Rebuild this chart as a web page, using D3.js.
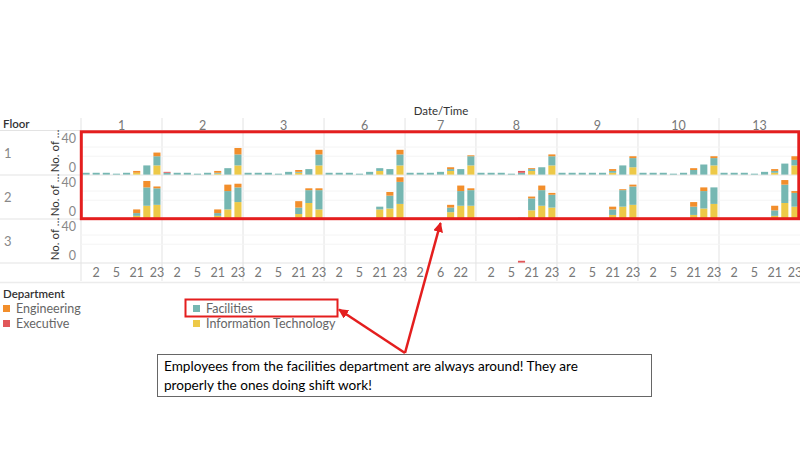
<!DOCTYPE html>
<html>
<head>
<meta charset="utf-8">
<script src="https://cdn.jsdelivr.net/npm/d3@7/dist/d3.min.js"></script>
<style>
  html, body { margin: 0; padding: 0; background: #fff; }
  svg { display: block; font-family: Lato, "Open Sans", sans-serif; }
</style>
</head>
<body>
<svg id="chart" width="800" height="450"></svg>
<script>
// ---------------- DATA ----------------
const days = ["1", "2", "3", "6", "7", "8", "9", "10", "13"];
const dayHours = [
  ["1", "2", "3", "5", "6", "21", "22", "23"],   // day 1
  ["1", "2", "3", "5", "6", "21", "22", "23"],   // day 2
  ["1", "2", "3", "5", "6", "21", "22", "23"],   // day 3
  ["1", "2", "3", "5", "6", "21", "22", "23"],   // day 6
  ["1", "2", "3", "6", "21", "22", "23"],        // day 7
  ["1", "2", "3", "5", "6", "21", "22", "23"],   // day 8
  ["1", "2", "3", "5", "6", "21", "22", "23"],   // day 9
  ["1", "2", "3", "5", "6", "21", "22", "23"],   // day 10
  ["1", "2", "3", "5", "6", "21", "22", "23"]    // day 13
];
const floors = ["1", "2", "3"];
const departments = ["Engineering", "Executive", "Facilities", "Information Technology"];
const yTicks = [0, 40];

// values per slot (days in order, hours in order)
//                 d1               | d2               | d3               | d6               | d7             | d8               | d9               | d10              | d13
const f1Eng  = [0,0,0,0,0,2,0,4,   0,0,0,0,0,2,0,7,   0,0,0,0,0,2,0,5,   0,0,0,0,0,0,0,5,   0,0,0,0,2,0,1,   0,0,0,0,0,1,0,2,   0,0,0,0,0,2,0,2,   0,0,0,0,0,2,0,2,   0,0,0,0,0,2,0,4];
const f1Exec = [0,0,0,0,0,0,0,0,   1,0,0,0,0,0,0,0,   0,0,0,0,0,0,0,0,   0,0,0,0,0,0,0,0,   0,0,0,0,0,0,0,   0,0,0,0,2,0,0,0,   0,0,0,0,0,0,0,0,   0,0,0,0,0,0,0,0,   0,0,0,0,0,0,0,0];
const f1Fac  = [2,2,2,1,2,0,10,10, 2,2,2,1,2,1,7,12,  2,2,2,1,3,1,6,12,  2,2,2,1,3,3,6,12,  2,2,2,3,2,6,10,  2,2,2,1,2,2,8,10,  2,2,2,2,2,2,10,10, 2,2,2,1,2,5,11,8,  2,2,2,1,3,2,12,6];
const f1IT   = [0,0,0,0,0,2,0,10,  0,0,0,0,0,1,0,10,  0,0,0,0,0,2,0,10,  0,0,0,0,0,4,0,10,  0,0,0,0,4,0,10,  0,0,0,0,0,4,0,10,  0,0,0,0,0,2,0,8,   0,0,0,0,0,0,0,10,  0,0,0,0,0,2,0,10];

const f2Eng  = [0,0,0,0,0,4,7,2,   0,0,0,0,0,4,7,4,   0,0,0,0,0,7,2,2,   0,0,0,0,0,0,4,5,   0,0,0,0,3,6,2,   0,0,0,0,0,2,5,2,   0,0,0,0,0,3,1,2,   0,0,0,0,0,5,4,0,   0,0,0,0,0,5,5,2];
const f2Exec = [0,0,0,0,0,0,0,0,   0,0,0,0,0,0,0,0,   0,0,0,0,0,0,0,0,   0,0,0,0,0,0,0,0,   0,0,0,0,0,0,0,   0,0,0,0,1,0,0,0,   0,0,0,0,0,0,0,0,   0,0,0,0,0,0,0,0,   0,0,0,0,0,0,0,0];
const f2Fac  = [0,0,0,0,0,3,20,18, 0,0,0,0,0,3,20,16, 0,0,0,0,0,7,14,21, 0,0,0,0,0,3,14,24, 0,0,0,0,5,16,17, 0,0,0,0,0,13,17,14, 0,0,0,0,0,6,18,20, 0,0,0,0,0,9,19,18, 0,0,0,0,0,6,20,15];
const f2IT   = [0,0,0,0,0,3,14,15, 0,0,0,0,0,3,10,18, 0,0,0,0,0,5,17,10, 0,0,0,0,0,10,11,16, 0,0,0,0,7,14,14, 0,0,0,0,0,9,14,12, 0,0,0,0,0,4,13,15, 0,0,0,0,0,4,11,16, 0,0,0,0,0,3,17,13];

const f3Eng  = [0,0,0,0,0,0,0,0,   0,0,0,0,0,0,0,0,   0,0,0,0,0,0,0,0,   0,0,0,0,0,0,0,0,   0,0,0,0,0,0,0,   0,0,0,0,0,0,0,0,   0,0,0,0,0,0,0,0,   0,0,0,0,0,0,0,0,   0,0,0,0,0,0,0,0];
const f3Exec = [0,0,0,0,0,0,0,0,   0,0,0,0,0,0,0,0,   0,0,0,0,0,0,0,0,   0,0,0,0,0,0,0,0,   0,0,0,0,0,0,0,   0,0,0,0,2,0,0,0,   0,0,0,0,0,0,0,0,   0,0,0,0,0,0,0,0,   0,0,0,0,0,0,0,0];
const f3Fac  = [0,0,0,0,0,0,0,0,   0,0,0,0,0,0,0,0,   0,0,0,0,0,0,0,0,   0,0,0,0,0,0,0,0,   0,0,0,0,0,0,0,   0,0,0,0,0,0,0,0,   0,0,0,0,0,0,0,0,   0,0,0,0,0,0,0,0,   0,0,0,0,0,0,0,0];
const f3IT   = [0,0,0,0,0,0,0,0,   0,0,0,0,0,0,0,0,   0,0,0,0,0,0,0,0,   0,0,0,0,0,0,0,0,   0,0,0,0,0,0,0,   0,0,0,0,0,0,0,0,   0,0,0,0,0,0,0,0,   0,0,0,0,0,0,0,0,   0,0,0,0,0,0,0,0];

const annotationLines = [
  "Employees from the facilities department are always around! They are",
  "properly the ones doing shift work!"
];

// ---------------- LAYOUT ----------------
const floorSeries = [
  {Engineering: f1Eng, Executive: f1Exec, Facilities: f1Fac, "Information Technology": f1IT},
  {Engineering: f2Eng, Executive: f2Exec, Facilities: f2Fac, "Information Technology": f2IT},
  {Engineering: f3Eng, Executive: f3Exec, Facilities: f3Fac, "Information Technology": f3IT}
];
const colors = {
  "Engineering": "#f28e2b",
  "Executive": "#e15759",
  "Facilities": "#76b7b2",
  "Information Technology": "#edc948"
};
const stackOrder = ["Information Technology", "Facilities", "Executive", "Engineering"];

const svg = d3.select("#chart");
svg.append("rect").attr("width", 800).attr("height", 450).attr("fill", "#fff");

const plotL = 81, plotR = 800;
const rowTop = 131, rowH = 44;
const gridCol = "#e3e3e3";

// slots
const slots = [];
days.forEach((d, di) => dayHours[di].forEach((h, hi) => slots.push({key: d + "|" + h, day: d, hour: h, di, hi})));

const x = d3.scaleBand().domain(slots.map(s => s.key)).range([plotL, plotR]).paddingInner(0.3).paddingOuter(0.15);
const step = x.step();

// panel boundaries per day
const dayStart = [];
let acc = 0;
days.forEach((d, di) => { dayStart.push(acc); acc += dayHours[di].length; });
const dayX0 = di => plotL + dayStart[di] * step;
const dayX1 = di => plotL + (dayStart[di] + dayHours[di].length) * step;

// horizontal separators
[130.5, 175, 219, 263].forEach(yy => {
  svg.append("line").attr("x1", 0).attr("x2", 800).attr("y1", yy).attr("y2", yy)
    .attr("stroke", gridCol).attr("stroke-width", 1);
});
svg.append("line").attr("x1", 0).attr("x2", 800).attr("y1", 282.5).attr("y2", 282.5)
  .attr("stroke", "#ececec").attr("stroke-width", 1.5);

// vertical panel separators
const vlines = [plotL].concat(days.map((d, di) => dayX1(di)).slice(0, -1));
vlines.forEach(vx => {
  svg.append("line").attr("x1", vx).attr("x2", vx).attr("y1", 118).attr("y2", 281)
    .attr("stroke", gridCol).attr("stroke-width", 1);
});

// headers
svg.append("text").attr("x", 3).attr("y", 128).attr("font-size", 11.5).attr("font-weight", 600)
  .attr("fill", "#333").text("Floor");
svg.append("text").attr("x", (plotL + plotR) / 2 + 0.5).attr("y", 115).attr("text-anchor", "middle")
  .attr("font-size", 11.5).attr("fill", "#333").text("Date/Time");
days.forEach((d, di) => {
  svg.append("text").attr("x", (dayX0(di) + dayX1(di)) / 2).attr("y", 129.5).attr("text-anchor", "middle")
    .attr("font-size", 12.5).attr("fill", "#777").text(d);
});

// rows
floors.forEach((fl, fi) => {
  const top = rowTop + fi * rowH;
  const base = top + 43.6;
  const y = d3.scaleLinear().domain([0, 47.5]).range([base, top]);

  // faint gridlines
  [20, 30].forEach(v => {
    svg.append("line").attr("x1", plotL).attr("x2", plotR).attr("y1", y(v)).attr("y2", y(v))
      .attr("stroke", "#f4f4f4").attr("stroke-width", 1);
  });

  // floor label
  svg.append("text").attr("x", 4).attr("y", top + 27).attr("font-size", 13).attr("fill", "#888").text(fl);

  // axis title
  svg.append("text").attr("transform", `translate(59,${top + 20}) rotate(-90)`)
    .attr("text-anchor", "middle").attr("font-size", 11.5).attr("fill", "#333").text("No. of …");

  // y axis labels
  const ax = d3.axisLeft(y).tickValues(yTicks).tickSize(0).tickPadding(4).tickFormat(d3.format("d"));
  const g = svg.append("g").attr("transform", `translate(${plotL - 1},0)`).call(ax);
  g.select(".domain").remove();
  g.selectAll("text").attr("font-size", 12.5).attr("fill", "#888").attr("font-family", "Lato, sans-serif")
    .attr("dy", d => d === 0 ? "-0.25em" : "0.35em");

  // stacked bars
  const fs = floorSeries[fi];
  const rows = slots.map((s, i) => {
    const r = {key: s.key};
    departments.forEach(dep => r[dep] = fs[dep][i]);
    return r;
  });
  const stacked = d3.stack().keys(stackOrder)(rows);
  svg.append("g").selectAll("g").data(stacked).join("g")
    .attr("fill", d => colors[d.key])
    .selectAll("rect").data(d => d.filter(p => p[1] - p[0] > 0)).join("rect")
    .attr("x", p => x(p.data.key))
    .attr("width", x.bandwidth())
    .attr("y", p => y(p[1]))
    .attr("height", p => y(p[0]) - y(p[1]));
});

// bottom axis (every other hour label)
const xAxis = d3.axisBottom(x).tickSize(0).tickPadding(0)
  .tickValues(slots.filter(s => s.hi % 2 === 1).map(s => s.key))
  .tickFormat(k => k.split("|")[1]);
const gx = svg.append("g").attr("transform", "translate(0,268)").call(xAxis);
gx.select(".domain").remove();
gx.selectAll("text").attr("font-size", 12.5).attr("fill", "#777").attr("font-family", "Lato, sans-serif");

// legend
svg.append("text").attr("x", 3).attr("y", 298).attr("font-size", 11.5).attr("font-weight", 600)
  .attr("fill", "#333").text("Department");
const legendPos = [[3, 305], [3, 320], [193, 305], [193, 320]];
departments.forEach((dep, i) => {
  const [lx, ly] = legendPos[i];
  svg.append("rect").attr("x", lx).attr("y", ly).attr("width", 7).attr("height", 7).attr("fill", colors[dep]);
  svg.append("text").attr("x", lx + 13).attr("y", ly + 8).attr("font-size", 12.5).attr("fill", "#666").text(dep);
});

// annotation shapes
const red = "#e41e1e";
svg.append("rect").attr("x", 81.3).attr("y", 131.8).attr("width", 717.5).attr("height", 86.9)
  .attr("fill", "none").attr("stroke", red).attr("stroke-width", 3);
svg.append("rect").attr("x", 185.5).attr("y", 299.5).attr("width", 152).attr("height", 17)
  .attr("fill", "none").attr("stroke", red).attr("stroke-width", 2);

const defs = svg.append("defs");
defs.append("marker").attr("id", "ah").attr("viewBox", "0 0 10 10").attr("refX", 9).attr("refY", 5)
  .attr("markerWidth", 4).attr("markerHeight", 4).attr("markerUnits", "strokeWidth").attr("orient", "auto")
  .append("path").attr("d", "M0,0 L10,5 L0,10 Z").attr("fill", red);

const apex = [405, 353];
[[440.5, 223], [339, 309.5]].forEach(([tx, ty]) => {
  svg.append("line").attr("x1", apex[0]).attr("y1", apex[1]).attr("x2", tx).attr("y2", ty)
    .attr("stroke", red).attr("stroke-width", 2.5).attr("marker-end", "url(#ah)");
});

svg.append("rect").attr("x", 157.5).attr("y", 354.5).attr("width", 494).attr("height", 42)
  .attr("fill", "#fff").attr("stroke", "#666").attr("stroke-width", 1);
annotationLines.forEach((t, i) => {
  svg.append("text").attr("x", 164).attr("y", 371 + i * 18.5).attr("font-size", 13.6)
    .attr("font-family", "Lato, 'Open Sans', sans-serif").attr("fill", "#000").text(t);
});
</script>
</body>
</html>
